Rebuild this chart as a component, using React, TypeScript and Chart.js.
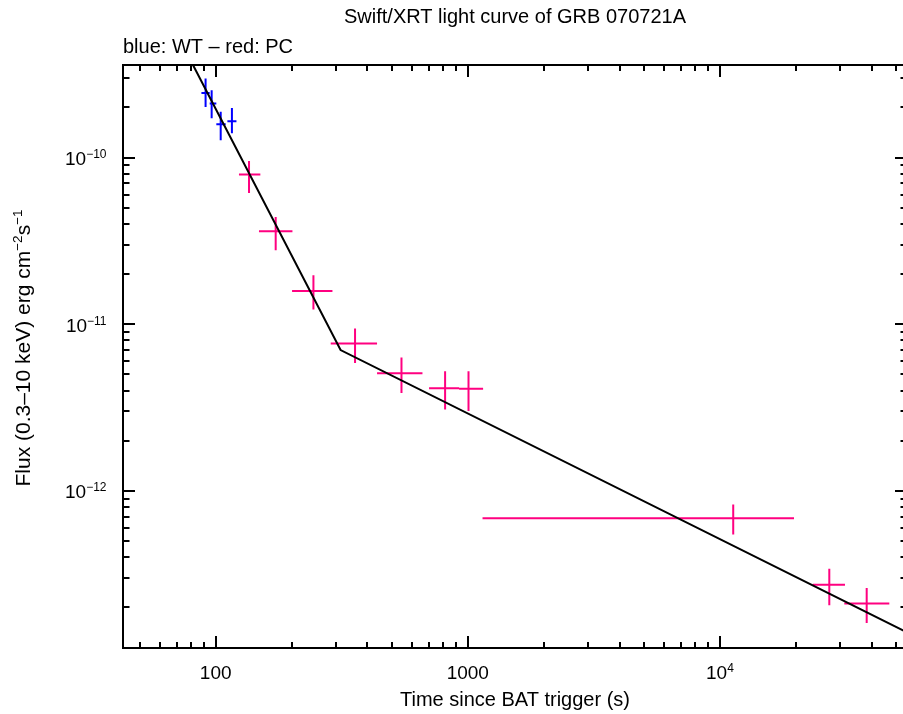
import React, { useEffect, useRef } from 'react';
import { Chart, registerables } from 'chart.js';

Chart.register(...registerables);

const FONT = "'Liberation Sans', Arial, Helvetica, sans-serif";

// Axis ranges
const xMin = 42.9;
const xMax = 55200;
const yMin = 1.143e-13;
const yMax = 3.59e-10;

// Tick labels (base + superscript exponent)
const xMajorTicks = [100, 1000, 10000];
const xTickBase = ['100', '1000', '10'];
const xTickExp = ['', '', '4'];
const yMajorTicks = [1e-10, 1e-11, 1e-12];
const yTickBase = ['10', '10', '10'];
const yTickExp = ['−10', '−11', '−12'];
const minorMantissas = [2, 3, 4, 5, 6, 7, 8, 9];

// Axis titles
const titleText = 'Swift/XRT light curve of GRB 070721A';
const subtitleText = 'blue: WT – red: PC';
const xTitleText = 'Time since BAT trigger (s)';
// y title pieces: [text, isSuperscript]
const yTitleParts: [string, boolean][] = [
  ['Flux (0.3–10 keV) erg cm', false],
  ['−2', true],
  ['s', false],
  ['−1', true],
];

// WT mode (blue)
const wtTime = [91.2, 96.4, 104.7, 116];
const wtTimeLo = [87.8, 94.7, 100.6, 111.3];
const wtTimeHi = [94.7, 100.6, 109.6, 120.9];
const wtFlux = [2.44e-10, 2.11e-10, 1.585e-10, 1.65e-10];
const wtFluxLo = [2.01e-10, 1.72e-10, 1.27e-10, 1.4e-10];
const wtFluxHi = [2.98e-10, 2.53e-10, 1.88e-10, 1.98e-10];

// PC mode (red/pink)
const pcTime = [135.6, 173, 244.2, 357.1, 545.7, 812.8, 1006.5, 11290, 27150, 38200];
const pcTimeLo = [123.7, 148.5, 200.9, 286, 436.6, 702, 923.6, 1144, 23330, 31140];
const pcTimeHi = [150.4, 201.6, 290.5, 436.6, 661, 923.6, 1150, 19670, 31330, 46970];
const pcFlux = [7.91e-11, 3.61e-11, 1.584e-11, 7.66e-12, 5.08e-12, 4.13e-12, 4.11e-12, 6.86e-13, 2.74e-13, 2.11e-13];
const pcFluxLo = [6.13e-11, 2.78e-11, 1.225e-11, 5.86e-12, 3.87e-12, 3.08e-12, 3.02e-12, 5.48e-13, 2.06e-13, 1.615e-13];
const pcFluxHi = [9.54e-11, 4.4e-11, 1.968e-11, 9.42e-12, 6.31e-12, 5.22e-12, 5.22e-12, 8.29e-13, 3.42e-13, 2.62e-13];

// Broken power-law model (vertices)
const modelTime = [81.3, 313, 55200];
const modelFlux = [3.59e-10, 7.0e-12, 1.42e-13];

const WT_COLOR = '#0000ff';
const PC_COLOR = '#ff0080';

const isMajorVal = (v: number) => Math.abs(Math.log10(v) - Math.round(Math.log10(v))) < 1e-6;

const logTicks = (min: number, max: number) => {
  const out: { value: number }[] = [];
  for (let e = Math.floor(Math.log10(min)); e <= Math.ceil(Math.log10(max)); e++) {
    const base = Math.pow(10, e);
    [1, ...minorMantissas].forEach((m) => {
      const v = m * base;
      if (v >= min && v <= max) out.push({ value: v });
    });
  }
  return out;
};

const BASE_FONT = `19px ${FONT}`;
const SUP_FONT = `12px ${FONT}`;

const plotDecor = {
  id: 'plotDecor',
  beforeDatasetsDraw(chart: any) {
    const { ctx, chartArea: a, scales } = chart;
    const xs = scales.x;
    const ys = scales.y;
    ctx.save();
    ctx.beginPath();
    ctx.rect(a.left, a.top, a.right - a.left, a.bottom - a.top);
    ctx.clip();
    const draw = (t: number[], tl: number[], th: number[], f: number[], fl: number[], fh: number[], color: string) => {
      ctx.strokeStyle = color;
      ctx.lineWidth = 2;
      ctx.beginPath();
      for (let i = 0; i < t.length; i++) {
        const x = xs.getPixelForValue(t[i]);
        const y = ys.getPixelForValue(f[i]);
        ctx.moveTo(xs.getPixelForValue(tl[i]), y);
        ctx.lineTo(xs.getPixelForValue(th[i]), y);
        ctx.moveTo(x, ys.getPixelForValue(fh[i]));
        ctx.lineTo(x, ys.getPixelForValue(fl[i]));
      }
      ctx.stroke();
    };
    draw(wtTime, wtTimeLo, wtTimeHi, wtFlux, wtFluxLo, wtFluxHi, WT_COLOR);
    draw(pcTime, pcTimeLo, pcTimeHi, pcFlux, pcFluxLo, pcFluxHi, PC_COLOR);
    ctx.restore();
  },
  afterDraw(chart: any) {
    const { ctx, chartArea: a, scales } = chart;
    const xs = scales.x;
    const ys = scales.y;
    ctx.save();
    // tick marks (inside, all four sides)
    ctx.strokeStyle = '#000';
    ctx.lineWidth = 2;
    ctx.beginPath();
    for (const t of xs.ticks) {
      const px = Math.round(xs.getPixelForValue(t.value));
      const len = isMajorVal(t.value) ? 12 : 6;
      ctx.moveTo(px, a.bottom);
      ctx.lineTo(px, a.bottom - len);
      ctx.moveTo(px, a.top);
      ctx.lineTo(px, a.top + len);
    }
    for (const t of ys.ticks) {
      const py = Math.round(ys.getPixelForValue(t.value));
      const len = isMajorVal(t.value) ? 12 : 6.5;
      ctx.moveTo(a.left, py);
      ctx.lineTo(a.left + len, py);
      ctx.moveTo(a.right, py);
      ctx.lineTo(a.right - len, py);
    }
    ctx.stroke();
    ctx.strokeRect(a.left, a.top, a.right - a.left, a.bottom - a.top);

    // tick labels
    ctx.fillStyle = '#000';
    ctx.textBaseline = 'alphabetic';
    ctx.textAlign = 'left';
    xMajorTicks.forEach((v, i) => {
      const px = xs.getPixelForValue(v);
      ctx.font = BASE_FONT;
      const wb = ctx.measureText(xTickBase[i]).width;
      ctx.font = SUP_FONT;
      const we = xTickExp[i] ? ctx.measureText(xTickExp[i]).width : 0;
      const x0 = px - (wb + we) / 2;
      const yb = a.bottom + 30.5;
      ctx.font = BASE_FONT;
      ctx.fillText(xTickBase[i], x0, yb);
      if (xTickExp[i]) {
        ctx.font = SUP_FONT;
        ctx.fillText(xTickExp[i], x0 + wb, yb - 7);
      }
    });
    yMajorTicks.forEach((v, i) => {
      const py = ys.getPixelForValue(v);
      const right = a.left - 16.5;
      ctx.font = SUP_FONT;
      const we = ctx.measureText(yTickExp[i]).width;
      ctx.font = BASE_FONT;
      const wb = ctx.measureText(yTickBase[i]).width;
      const yb = py + 7.5;
      ctx.fillText(yTickBase[i], right - we - wb, yb);
      ctx.font = SUP_FONT;
      ctx.fillText(yTickExp[i], right - we, yb - 7);
    });

    // y axis title (rotated, with superscripts)
    const mainFont = `21px ${FONT}`;
    const supFont = `13.5px ${FONT}`;
    let total = 0;
    const widths = yTitleParts.map(([txt, sup]) => {
      ctx.font = sup ? supFont : mainFont;
      const w = ctx.measureText(txt).width;
      total += w;
      return w;
    });
    ctx.translate(29.8, 348);
    ctx.rotate(-Math.PI / 2);
    let cx = -total / 2;
    yTitleParts.forEach(([txt, sup], i) => {
      ctx.font = sup ? supFont : mainFont;
      ctx.fillText(txt, cx, sup ? -7.5 : 0);
      cx += widths[i];
    });
    ctx.restore();
  },
};

export default function App() {
  const ref = useRef<HTMLCanvasElement>(null);

  useEffect(() => {
    if (!ref.current) return;
    Chart.defaults.font.family = FONT;
    Chart.defaults.color = '#000';
    const chart = new Chart(ref.current, {
      type: 'scatter',
      data: {
        datasets: [
          {
            label: 'Model',
            type: 'line',
            data: modelTime.map((t, i) => ({ x: t, y: modelFlux[i] })),
            borderColor: '#000',
            borderWidth: 2,
            pointRadius: 0,
            tension: 0,
            fill: false,
          } as any,
          {
            label: 'WT',
            data: wtTime.map((t, i) => ({ x: t, y: wtFlux[i] })),
            pointRadius: 0,
            borderColor: WT_COLOR,
            backgroundColor: WT_COLOR,
          },
          {
            label: 'PC',
            data: pcTime.map((t, i) => ({ x: t, y: pcFlux[i] })),
            pointRadius: 0,
            borderColor: PC_COLOR,
            backgroundColor: PC_COLOR,
          },
        ],
      },
      options: {
        responsive: false,
        animation: false,
        devicePixelRatio: 1,
        layout: { padding: { left: 0, right: 4, top: 0, bottom: 0 } },
        plugins: {
          legend: { display: false },
          tooltip: { enabled: false },
          title: {
            display: true,
            text: titleText,
            fullSize: false,
            align: 'center',
            color: '#000',
            font: { family: FONT, size: 20, weight: 'normal' },
            padding: { top: 5, bottom: 0 },
          },
          subtitle: {
            display: true,
            text: subtitleText,
            fullSize: false,
            align: 'start',
            color: '#000',
            font: { family: FONT, size: 20, weight: 'normal' },
            padding: { top: 6, bottom: 6 },
          },
        },
        scales: {
          x: {
            type: 'logarithmic',
            position: 'bottom',
            min: xMin,
            max: xMax,
            grid: { display: false, drawTicks: false },
            border: { display: false },
            afterBuildTicks: (s: any) => {
              s.ticks = logTicks(xMin, xMax);
            },
            afterFit: (s: any) => {
              s.height = 66;
            },
            ticks: { display: false, autoSkip: false, maxRotation: 0 },
            title: {
              display: true,
              text: xTitleText,
              color: '#000',
              font: { family: FONT, size: 20, weight: 'normal' },
              padding: { top: 0, bottom: 2 },
            },
          },
          y: {
            type: 'logarithmic',
            position: 'left',
            min: yMin,
            max: yMax,
            grid: { display: false, drawTicks: false },
            border: { display: false },
            afterBuildTicks: (s: any) => {
              s.ticks = logTicks(yMin, yMax);
            },
            afterFit: (s: any) => {
              s.width = 123;
            },
            ticks: { display: false, autoSkip: false },
            title: { display: false },
          },
        },
      } as any,
      plugins: [plotDecor],
    });
    return () => chart.destroy();
  }, []);

  return (
    <div
      style={{
        position: 'fixed',
        left: 0,
        top: 0,
        width: 903,
        height: 714,
        overflow: 'hidden',
        background: '#fff',
      }}
    >
      <canvas ref={ref} width={911} height={714} style={{ display: 'block', width: 911, height: 714 }} />
    </div>
  );
}
